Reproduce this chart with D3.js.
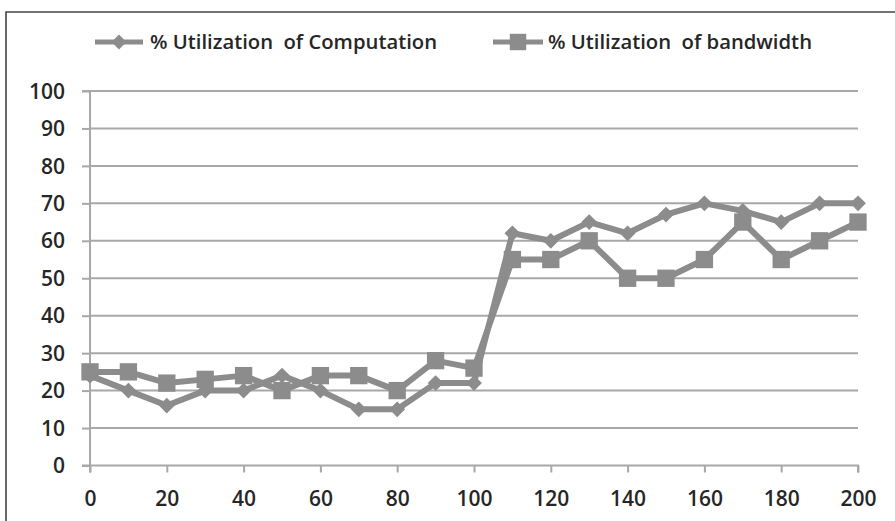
<!DOCTYPE html>
<html>
<head>
<meta charset="utf-8">
<script src="https://cdn.jsdelivr.net/npm/d3@7/dist/d3.min.js"></script>
<style>
  html, body { margin: 0; padding: 0; background: #fff; }
  svg { display: block; }
  text { font-family: "Open Sans", "Liberation Sans", sans-serif; fill: #262626; white-space: pre; }
</style>
</head>
<body>
<script>
const xValues = [0, 10, 20, 30, 40, 50, 60, 70, 80, 90, 100, 110, 120, 130, 140, 150, 160, 170, 180, 190, 200];
const computation = [24, 20, 16, 20, 20, 24, 20, 15, 15, 22, 22, 62, 60, 65, 62, 67, 70, 68, 65, 70, 70];
const bandwidth = [25, 25, 22, 23, 24, 20, 24, 24, 20, 28, 26, 55, 55, 60, 50, 50, 55, 65, 55, 60, 65];
const xTicks = [0, 20, 40, 60, 80, 100, 120, 140, 160, 180, 200];
const yTicks = [0, 10, 20, 30, 40, 50, 60, 70, 80, 90, 100];
const seriesNames = ["% Utilization  of Computation", "% Utilization  of bandwidth"];

const W = 895, H = 521;
const svg = d3.select("body").append("svg").attr("width", W).attr("height", H);

// frame (top and left border)
svg.append("path").attr("d", `M6,${H} L6,12 L${W},12`)
  .attr("fill", "none").attr("stroke", "#454545").attr("stroke-width", 1.6);

const x = d3.scaleLinear().domain([0, 200]).range([90, 858]);
const y = d3.scaleLinear().domain([0, 100]).range([465.5, 91]);
const gridColor = "#a8a8a8";

// gridlines
svg.append("g").selectAll("line").data(yTicks.filter(d => d > 0)).join("line")
  .attr("x1", x(0)).attr("x2", x(200))
  .attr("y1", d => y(d)).attr("y2", d => y(d))
  .attr("stroke", gridColor).attr("stroke-width", 2);

// y axis
const yAxis = svg.append("g").attr("transform", `translate(${x(0)},0)`)
  .call(d3.axisLeft(y).tickValues(yTicks).tickSize(8).tickPadding(17).tickFormat(d3.format("d")));
// x axis
const xAxis = svg.append("g").attr("transform", `translate(0,${y(0)})`)
  .call(d3.axisBottom(x).tickValues(xTicks).tickSize(7).tickPadding(19).tickFormat(d3.format("d")));

[yAxis, xAxis].forEach(g => {
  g.select(".domain").attr("stroke", gridColor).attr("stroke-width", 2);
  g.selectAll(".tick line").attr("stroke", gridColor).attr("stroke-width", 2);
  g.selectAll(".tick text").attr("font-size", 21).attr("font-weight", 600)
    .attr("font-family", "'Open Sans', sans-serif").attr("fill", "#262626");
});
yAxis.selectAll(".tick text").attr("dy", "0.34em");
yAxis.select(".domain").attr("d", `M-8,${y(100)}H0V${y(0)}H-8`);
xAxis.select(".domain").attr("d", `M${x(0)},7V0H${x(200)}V7`);

const lineColor = "#8c8c8c";
const line = d3.line().x((d, i) => x(xValues[i])).y(d => y(d));

const square = d3.symbol().type(d3.symbolSquare).size(300);
const diamond = d3.symbol().type(d3.symbolSquare).size(125);

// bandwidth series
svg.append("path").datum(bandwidth).attr("d", line)
  .attr("fill", "none").attr("stroke", lineColor).attr("stroke-width", 6).attr("stroke-linejoin", "round");
// computation series
svg.append("path").datum(computation).attr("d", line)
  .attr("fill", "none").attr("stroke", lineColor).attr("stroke-width", 6).attr("stroke-linejoin", "round");

svg.append("g").selectAll("path").data(bandwidth).join("path")
  .attr("d", square)
  .attr("transform", (d, i) => `translate(${x(xValues[i])},${y(d)})`)
  .attr("fill", lineColor);
svg.append("g").selectAll("path").data(computation).join("path")
  .attr("d", diamond)
  .attr("transform", (d, i) => `translate(${x(xValues[i])},${y(d)}) rotate(45)`)
  .attr("fill", lineColor);

// legend
const legend = [
  { name: seriesNames[0], x1: 95, x2: 143, tx: 150, tl: 287, sym: d3.symbol().type(d3.symbolSquare).size(110), rot: 45 },
  { name: seriesNames[1], x1: 493, x2: 543, tx: 548, tl: 264, sym: d3.symbol().type(d3.symbolSquare).size(270), rot: 0 }
];
const ly = 42;
const lg = svg.append("g").selectAll("g").data(legend).join("g");
lg.append("line").attr("x1", d => d.x1).attr("x2", d => d.x2).attr("y1", ly).attr("y2", ly)
  .attr("stroke", lineColor).attr("stroke-width", 5);
lg.append("path").attr("d", d => d.sym())
  .attr("transform", d => `translate(${(d.x1 + d.x2) / 2},${ly}) rotate(${d.rot})`).attr("fill", lineColor);
lg.append("text").attr("x", d => d.tx).attr("y", ly).attr("dy", "0.36em")
  .attr("font-size", 20.5).attr("font-weight", 600)
  .attr("textLength", d => d.tl).attr("lengthAdjust", "spacingAndGlyphs")
  .text(d => d.name);
</script>
</body>
</html>
